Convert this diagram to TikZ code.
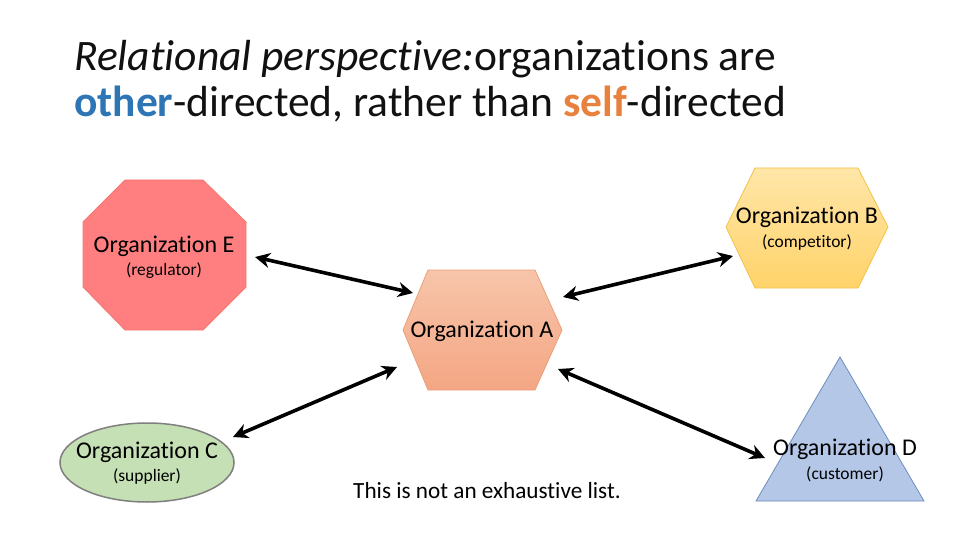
\documentclass[tikz,border=0pt]{standalone}
\usepackage{fontspec}
\setmainfont{Carlito}[Ligatures={NoCommon}]
\usetikzlibrary{arrows.meta,calc}
\definecolor{octE}{HTML}{FF7F80}
\definecolor{octEline}{HTML}{F07870}
\definecolor{hexBtop}{HTML}{FFE6A8}
\definecolor{hexBbot}{HTML}{FFD36A}
\definecolor{hexBline}{HTML}{F2C24A}
\definecolor{hexAtop}{HTML}{F7C5AA}
\definecolor{hexAbot}{HTML}{F4A683}
\definecolor{hexAline}{HTML}{EBA07A}
\definecolor{ellC}{HTML}{C5E0B4}
\definecolor{ellCline}{HTML}{7F7F7F}
\definecolor{triD}{HTML}{B4C7E7}
\definecolor{triDline}{HTML}{6C8EBF}
\definecolor{otherblue}{HTML}{2E75B6}
\definecolor{selforange}{HTML}{E8803E}
\definecolor{titlegray}{HTML}{111111}
\tikzset{
  orglabel/.style={font=\fontsize{24}{26}\selectfont, inner sep=0pt},
  notelabel/.style={font=\fontsize{23.2}{26}\selectfont, inner sep=0pt},
  rolelabel/.style={font=\fontsize{17.5}{19}\selectfont, inner sep=0pt},
  titleline/.style={font=\fontsize{43.5}{46}\selectfont, inner sep=0pt, anchor=base west, text=titlegray},
  biarrow/.style={line width=3.6pt, {Stealth[length=15pt,width=15pt]}-{Stealth[length=15pt,width=15pt]}},
}
\begin{document}
\begin{tikzpicture}[x=1pt,y=-1pt]
\useasboundingbox (0,0) rectangle (960,540);
\fill[white] (0,0) rectangle (960,540);

% title
\node[titleline] (t1) at (74,71) {\itshape Relational perspective:\upshape organizations are};
\node[titleline] (t2) at (74,117) {\textcolor{otherblue}{\bfseries other}-directed, rather than \textcolor{selforange}{\bfseries self}-directed};

% shapes
\draw[fill=octE, draw=octEline, line width=0.8pt]
  (125,180) -- (203,180) -- (246,222) -- (246,287) -- (203,330) -- (125,330) -- (83,287) -- (83,222) -- cycle;
\shade[top color=hexBtop, bottom color=hexBbot]
  (755,168) -- (858,168) -- (888,227) -- (858,288) -- (755,288) -- (726,227) -- cycle;
\draw[hexBline, line width=0.8pt]
  (755,168) -- (858,168) -- (888,227) -- (858,288) -- (755,288) -- (726,227) -- cycle;
\shade[top color=hexAtop, bottom color=hexAbot]
  (428,270) -- (535,270) -- (562,330) -- (535,390) -- (428,390) -- (403,330) -- cycle;
\draw[hexAline, line width=0.8pt]
  (428,270) -- (535,270) -- (562,330) -- (535,390) -- (428,390) -- (403,330) -- cycle;
\draw[fill=ellC, draw=ellCline, line width=1.5pt] (147,462.5) ellipse [x radius=87, y radius=39.5];
\draw[fill=triD, draw=triDline, line width=0.8pt] (840,357) -- (924,501) -- (756,501) -- cycle;

% labels
\node[orglabel] (E) at (164,246) {Organization E};
\node[rolelabel] (Erole) at (164,271) {(regulator)};
\node[orglabel] (B) at (807,217) {Organization B};
\node[rolelabel] (Brole) at (807,243) {(competitor)};
\node[orglabel] (A) at (482,331) {Organization A};
\node[orglabel] (C) at (147,452) {Organization C};
\node[rolelabel] (Crole) at (147,477) {(supplier)};
\node[orglabel] (D) at (845,449) {Organization D};
\node[rolelabel] (Drole) at (845,474) {(customer)};
\node[notelabel] (note) at (487,491) {This is not an exhaustive list.};

% connectors
\draw[biarrow] ($(E)+(91,11)$) -- ($(A)+(-69,-38)$);
\draw[biarrow] ($(B)+(-74,39)$) -- ($(A)+(81,-34)$);
\draw[biarrow] ($(C)+(86,-15)$) -- ($(A)+(-85,36)$);
\draw[biarrow] ($(D)+(-80,9)$) -- ($(A)+(76,38)$);
\end{tikzpicture}
\end{document}
